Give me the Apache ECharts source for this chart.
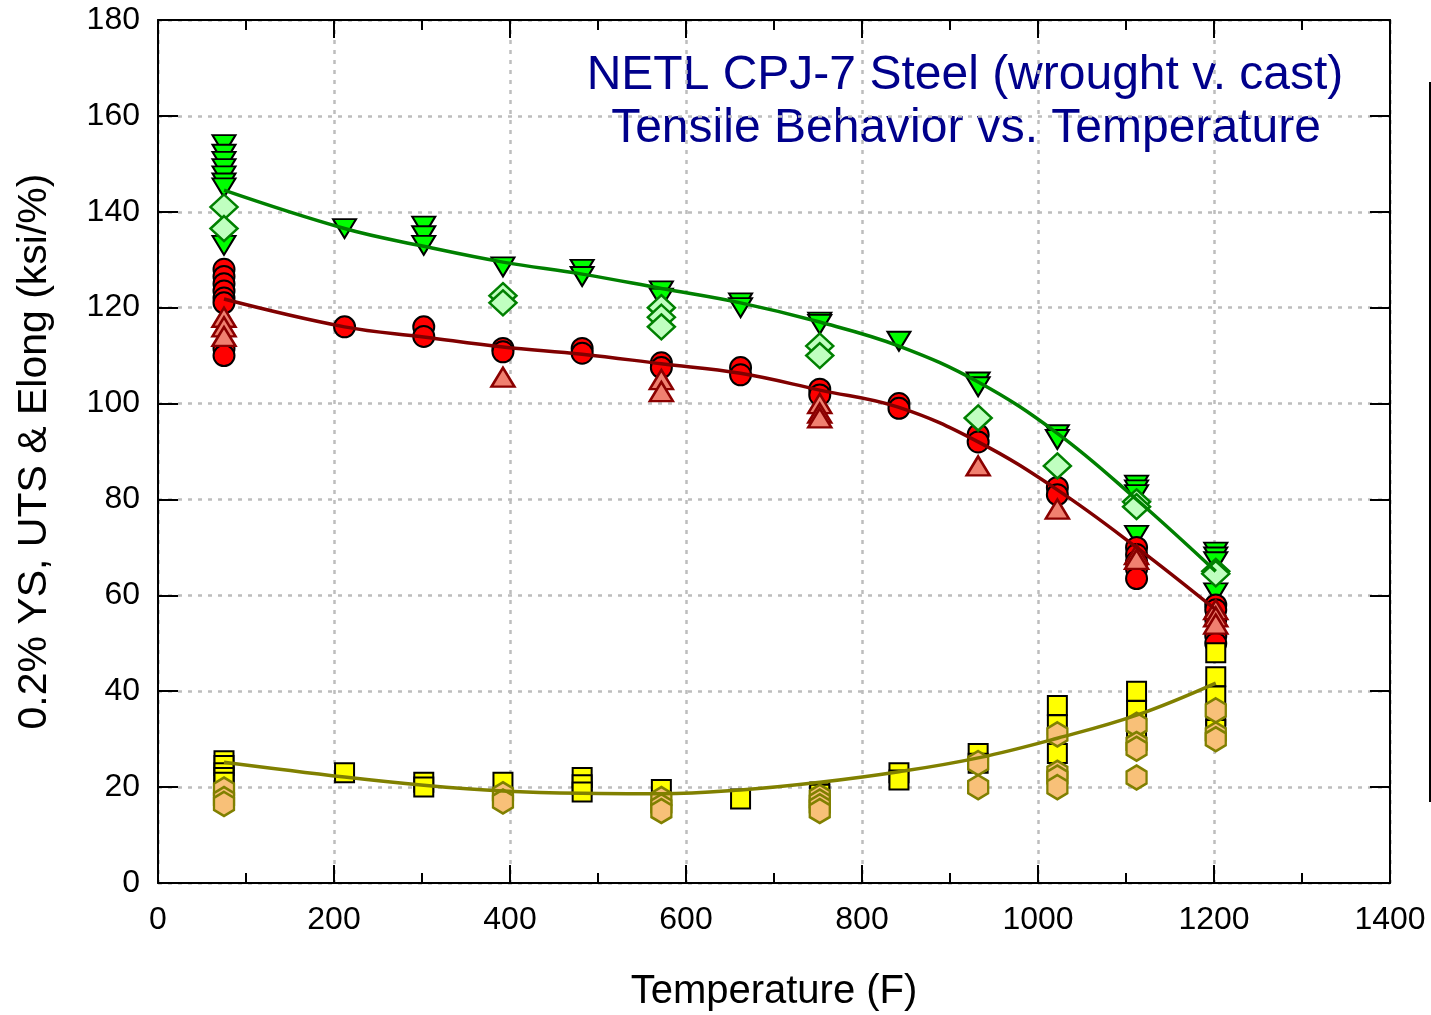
<!DOCTYPE html>
<html>
<head>
<meta charset="utf-8">
<script src="https://cdn.jsdelivr.net/npm/echarts@6/dist/echarts.min.js"></script>
<style>
  html, body { margin: 0; padding: 0; background: #fff; }
  #echart1 { width: 1431px; height: 1015px; }
</style>
</head>
<body>
<div id="echart1"></div>
<script>
// test temperatures (F)
const temps = [75, 212, 302, 392, 482, 572, 662, 752, 842, 932, 1022, 1112, 1202];

// UTS, wrought (ksi), one list per temperature
const utsWrought = [
  [154, 152, 150.5, 149, 147.5, 146, 145, 133], [136.5], [137, 135, 133], [128.5],
  [128, 126.5], [123.5, 122], [121, 120], [117, 116.5], [113], [104.5, 103.5],
  [93.5, 92.5], [83, 82, 81, 72.5], [69, 68, 67, 60.5]
];
// UTS, cast
const utsCast = [
  [141, 136.5], [], [], [122.5, 121], [], [120, 118, 116], [], [112, 110], [],
  [97], [87], [79.5, 78.5], [65, 64.5]
];
// 0.2% YS, wrought
const ysWrought = [
  [128, 126.5, 125, 123.5, 122, 121, 111.5, 110], [116], [116, 114], [111.5, 110.8],
  [111.5, 110.5], [108.5, 107.5], [107.5, 106], [103, 101.8], [100, 99], [93.5, 92],
  [82.5, 81], [70, 68.5, 67, 65.5, 63.5], [58, 57, 55, 51.5, 50]
];
// 0.2% YS, cast
const ysCast = [
  [118, 116, 114], [], [], [105.5], [], [105, 102.5], [], [100, 98, 97], [],
  [87], [78], [68.5, 67.5], [57, 55.5, 54]
];
// elongation (%), wrought
const elWrought = [
  [25.5, 24.5, 23, 22, 21], [23], [21, 20], [21], [22, 20.5, 19], [19.5], [17.5],
  [19, 18.5], [23, 21.5], [27, 25], [37, 33, 27], [40, 36, 32], [48, 43, 39, 35, 32]
];
// elongation, cast
const elCast = [
  [19.5, 17.5, 16.5], [], [], [18.5, 17], [], [17.5, 16, 15], [], [18, 17, 16, 15], [],
  [25, 20], [31, 23, 22, 20], [33, 29, 28, 22], [36, 31, 30]
];
// fitted trend curves read at each temperature
const utsFit = [144.5, 136.5, 132.8, 129.5, 127, 124, 121, 117, 112, 104.5, 93.8, 80, 65];
const ysFit = [121.8, 116, 113.9, 111.8, 110.3, 108.3, 106.3, 102.8, 99.2, 92, 82, 70, 57];
const elFit = [25.2, 22.1, 20.4, 19.2, 18.7, 18.6, 19.4, 21, 23.2, 26.1, 30.2, 35, 41.7];

const xTicks = [0, 200, 400, 600, 800, 1000, 1200, 1400];
const yTicks = [0, 20, 40, 60, 80, 100, 120, 140, 160, 180];

const FONT = 'Liberation Sans, Arial, sans-serif';

function pts(groups) {
  const out = [];
  groups.forEach((g, i) => g.forEach(v => out.push([temps[i], v])));
  return out;
}
function fit(vals) {
  return vals.map((v, i) => [temps[i], v]);
}

const hexagon = 'path://M0,-1 L0.866,-0.5 L0.866,0.5 L0,1 L-0.866,0.5 L-0.866,-0.5 Z';
const tickStyle = { color: '#000', width: 2 };
const gridStyle = { color: '#bdbdbd', width: 2.5, type: [4, 6] };

let myChart = echarts.init(document.getElementById('echart1'));
myChart.setOption({
  animation: false,
  backgroundColor: '#fff',
  textStyle: { fontFamily: FONT },
  grid: { left: 158, right: 41, top: 20, bottom: 132, outerBoundsMode: 'none', containLabel: false },
  graphic: [
    {
      type: 'text', x: 965, y: 76,
      style: { text: 'NETL CPJ-7 Steel (wrought v. cast)', font: '48px ' + FONT, fill: '#00008b', align: 'center', verticalAlign: 'middle' }
    },
    {
      type: 'text', x: 966, y: 129,
      style: { text: 'Tensile Behavior vs. Temperature', font: '48px ' + FONT, fill: '#00008b', align: 'center', verticalAlign: 'middle' }
    },
    {
      type: 'line',
      shape: { x1: 1430, y1: 82, x2: 1430, y2: 802 },
      style: { stroke: '#000', lineWidth: 2 }
    }
  ],
  xAxis: [
    {
      type: 'value', min: xTicks[0], max: xTicks[xTicks.length - 1], interval: 200,
      name: 'Temperature (F)', nameLocation: 'middle', nameGap: 89,
      nameTextStyle: { fontSize: 40, color: '#000', fontFamily: FONT },
      axisLine: { show: true, onZero: false, lineStyle: tickStyle },
      axisTick: { show: true, inside: true, length: 18, lineStyle: tickStyle },
      minorTick: { show: true, splitNumber: 2, length: 10, lineStyle: tickStyle },
      axisLabel: { fontSize: 32, color: '#000', margin: 21, fontFamily: FONT, formatter: v => String(v) },
      splitLine: { show: true, lineStyle: gridStyle }
    },
    {
      type: 'value', position: 'top', min: 0, max: 1400, interval: 200,
      axisLine: { show: true, onZero: false, lineStyle: tickStyle },
      axisTick: { show: true, inside: true, length: 18, lineStyle: tickStyle },
      minorTick: { show: true, splitNumber: 2, length: 10, lineStyle: tickStyle },
      axisLabel: { show: false },
      splitLine: { show: false }
    }
  ],
  yAxis: [
    {
      type: 'value', min: yTicks[0], max: yTicks[yTicks.length - 1], interval: 20,
      name: '0.2% YS, UTS & Elong (ksi/%)', nameLocation: 'middle', nameGap: 103,
      nameTextStyle: { fontSize: 41, color: '#000', fontFamily: FONT },
      axisLine: { show: true, onZero: false, lineStyle: tickStyle },
      axisTick: { show: true, inside: true, length: 20, lineStyle: tickStyle },
      axisLabel: { fontSize: 32, color: '#000', margin: 18, fontFamily: FONT },
      splitLine: { show: true, lineStyle: gridStyle }
    },
    {
      type: 'value', position: 'right', min: 0, max: 180, interval: 20,
      axisLine: { show: true, onZero: false, lineStyle: tickStyle },
      axisTick: { show: true, inside: true, length: 20, lineStyle: tickStyle },
      axisLabel: { show: false },
      splitLine: { show: false }
    }
  ],
  series: [
    {
      name: 'UTS wrought', type: 'scatter', data: pts(utsWrought),
      symbol: 'triangle', symbolRotate: 180, symbolSize: [23, 19],
      itemStyle: { color: '#00ff00', borderColor: '#000', borderWidth: 2, opacity: 1 }
    },
    {
      name: 'YS wrought', type: 'scatter', data: pts(ysWrought),
      symbol: 'circle', symbolSize: 21,
      itemStyle: { color: '#ff0000', borderColor: '#000', borderWidth: 2, opacity: 1 }
    },
    {
      name: 'Elong wrought', type: 'scatter', data: pts(elWrought),
      symbol: 'rect', symbolSize: 19,
      itemStyle: { color: '#ffff00', borderColor: '#000', borderWidth: 2, opacity: 1 }
    },
    {
      name: 'UTS fit', type: 'line', data: fit(utsFit), smooth: 0.4, showSymbol: false,
      lineStyle: { color: '#008000', width: 3.5 }
    },
    {
      name: 'YS fit', type: 'line', data: fit(ysFit), smooth: 0.4, showSymbol: false,
      lineStyle: { color: '#800000', width: 3.5 }
    },
    {
      name: 'Elong fit', type: 'line', data: fit(elFit), smooth: 0.4, showSymbol: false,
      lineStyle: { color: '#808000', width: 3.5 }
    },
    {
      name: 'UTS cast', type: 'scatter', data: pts(utsCast),
      symbol: 'diamond', symbolSize: [27, 25],
      itemStyle: { color: '#c0ffc0', borderColor: '#008000', borderWidth: 2.5, opacity: 1 }
    },
    {
      name: 'YS cast', type: 'scatter', data: pts(ysCast),
      symbol: 'triangle', symbolSize: [23, 19],
      itemStyle: { color: '#f08070', borderColor: '#8b0000', borderWidth: 2.5, opacity: 1 }
    },
    {
      name: 'Elong cast', type: 'scatter', data: pts(elCast),
      symbol: hexagon, symbolSize: [20, 24],
      itemStyle: { color: '#f8c078', borderColor: '#808000', borderWidth: 2.5, opacity: 1 }
    }
  ]
});
</script>
</body>
</html>
